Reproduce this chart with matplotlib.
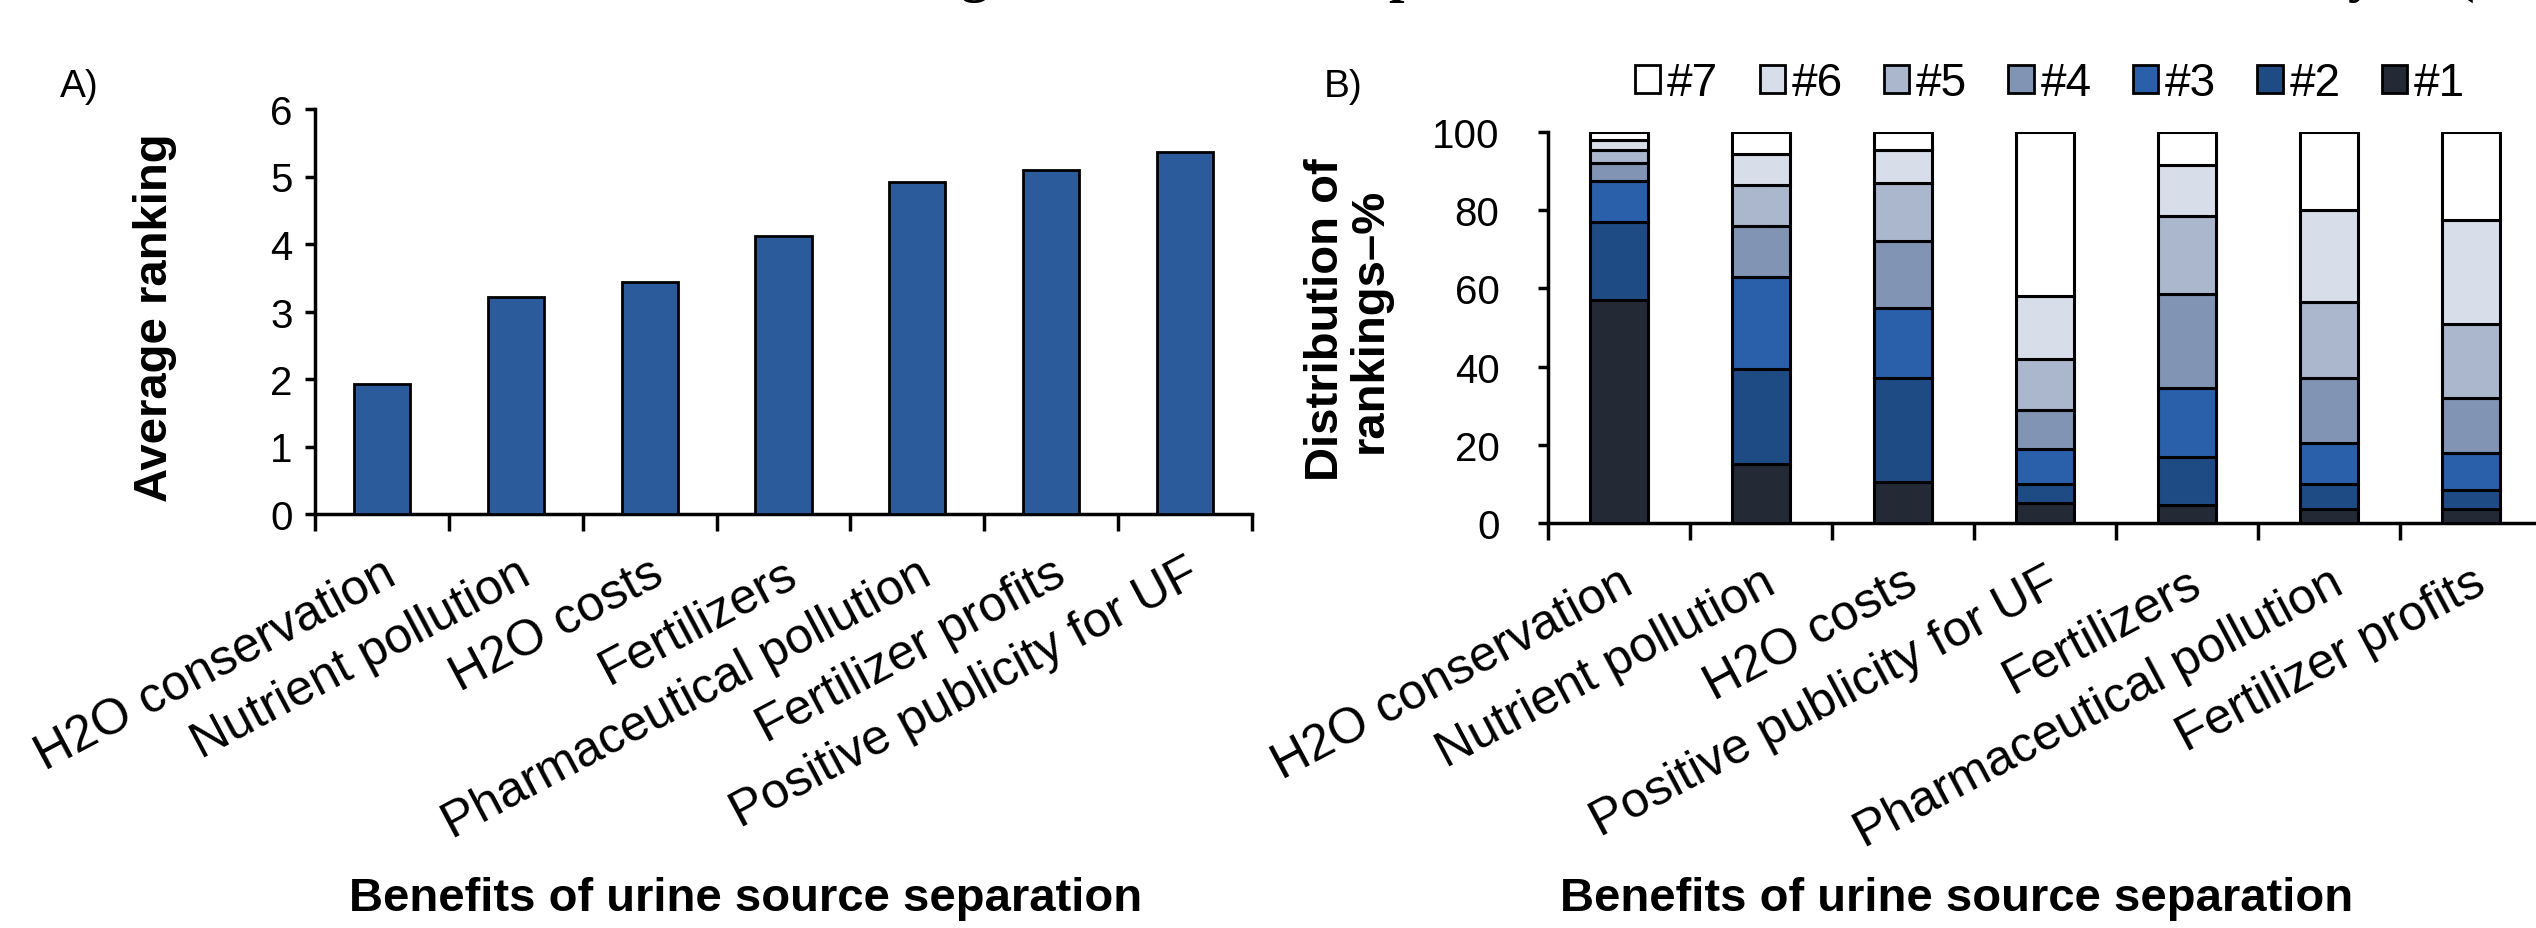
import matplotlib
matplotlib.use('Agg')
import matplotlib.pyplot as plt
from matplotlib.patches import Patch
import numpy as np

plt.rcParams['font.family'] = ['Liberation Sans', 'DejaVu Sans']

# ---------------- data ----------------
cats_a = ["H2O conservation", "Nutrient pollution", "H2O costs", "Fertilizers",
          "Pharmaceutical pollution", "Fertilizer profits", "Positive publicity for UF"]
avg_rank = [1.92, 3.22, 3.43, 4.12, 4.92, 5.10, 5.36]

cats_b = ["H2O conservation", "Nutrient pollution", "H2O costs", "Positive publicity for UF",
          "Fertilizers", "Pharmaceutical pollution", "Fertilizer profits"]
rank_labels = ["#1", "#2", "#3", "#4", "#5", "#6", "#7"]
rank1 = [57, 15, 10.5, 5, 4.5, 3.5, 3.5]
rank2 = [20, 24.5, 26.5, 5, 12.5, 6.5, 5]
rank3 = [10.5, 23.5, 18, 9, 17.5, 10.5, 9.5]
rank4 = [4.5, 13, 17, 10, 24, 16.5, 14]
rank5 = [3.5, 10.5, 15, 13, 20, 19.5, 19]
rank6 = [2.5, 8, 8.5, 16, 13, 23.5, 26.5]
rank7 = [2, 5.5, 4.5, 42, 8.5, 20, 22.5]

# ---------------- styling ----------------
W, H = 2536, 929
TICK_FS = 29
XT_FS = 36
LAB_FS = 34
LEG_FS = 33
bar_blue = '#2c5b9c'
rank_colors = ['#232a36', '#1f4b84', '#2a60aa', '#8194b4', '#abb7cd', '#d7dde9', '#ffffff']

fig = plt.figure(figsize=(W / 100, H / 100), dpi=100)

def frac(x0, y_top, x1, y_bot):
    return [x0 / W, 1 - y_bot / H, (x1 - x0) / W, (y_bot - y_top) / H]

axA = fig.add_axes(frac(315, 110, 1252, 515))
axB = fig.add_axes(frac(1548, 133, 2542, 524))

def style_axis(ax, n, labels, ypad):
    for s in ('top', 'right'):
        ax.spines[s].set_visible(False)
    for s in ('left', 'bottom'):
        ax.spines[s].set_linewidth(2.5)
    ax.set_xlim(-0.5, n - 0.5)
    ax.set_xticks(np.arange(n))
    ax.set_xticklabels(labels, rotation=28, ha='right', rotation_mode='anchor', fontsize=XT_FS)
    ax.set_xticks(np.arange(n + 1) - 0.5, minor=True)
    ax.tick_params(axis='x', which='major', length=0, pad=26)
    ax.tick_params(axis='x', which='minor', length=12, width=2.5, direction='out')
    ax.tick_params(axis='y', length=7, width=2.5, direction='out', labelsize=TICK_FS, pad=ypad)

# ---------------- panel A ----------------
xa = np.arange(len(cats_a))
axA.bar(xa, avg_rank, width=0.42, color=bar_blue, edgecolor='black', linewidth=2, zorder=3)
axA.set_ylim(0, 6)
axA.set_yticks(range(0, 7))
style_axis(axA, len(cats_a), cats_a, 9)

# ---------------- panel B ----------------
xb = np.arange(len(cats_b))
series = [rank1, rank2, rank3, rank4, rank5, rank6, rank7]
bottom = np.zeros(len(cats_b))
for vals, col in zip(series, rank_colors):
    axB.bar(xb, vals, bottom=bottom, width=0.41, color=col, edgecolor='black',
            linewidth=2.2, zorder=3)
    bottom += np.array(vals)
axB.set_ylim(0, 100)
axB.set_yticks(range(0, 101, 20))
style_axis(axB, len(cats_b), cats_b, 28)

handles = [Patch(facecolor=c, edgecolor='black', linewidth=2) for c in rank_colors][::-1]
fig.legend(handles, rank_labels[::-1], loc='center', bbox_to_anchor=(2050 / W, 1 - 84 / H),
           ncol=7, frameon=False, fontsize=LEG_FS, handlelength=0.55, handleheight=0.55,
           handletextpad=0.15, columnspacing=0.9, borderaxespad=0)

# ---------------- labels ----------------
fig.text(155 / W, 1 - 318 / H, 'Average ranking', rotation=90, ha='center', va='center',
         fontsize=LAB_FS, fontweight='bold')
fig.text(1348 / W, 1 - 320 / H, 'Distribution of\nrankings\u2013%', rotation=90, ha='center',
         va='center', fontsize=LAB_FS, fontweight='bold', linespacing=1.0,
         multialignment='center')
fig.text(746 / W, 1 - 899 / H, 'Benefits of urine source separation', ha='center', va='center',
         fontsize=LAB_FS, fontweight='bold')
fig.text(1957 / W, 1 - 899 / H, 'Benefits of urine source separation', ha='center', va='center',
         fontsize=LAB_FS, fontweight='bold')
fig.text(60 / W, 1 - 97 / H, 'A)', ha='left', va='baseline', fontsize=28)
fig.text(1324 / W, 1 - 97 / H, 'B)', ha='left', va='baseline', fontsize=28)

# cropped remains of a caption above the figure (only descenders visible)
for ch, xpix in [('g', 960), ('p', 1388), ('y', 2348), ('(', 2455)]:
    fig.text(xpix / W, 1 + 9 / H, ch, ha='left', va='baseline', fontsize=40,
             fontweight='bold', family=['Liberation Serif', 'DejaVu Serif'])

fig.savefig('out.png', dpi=100)
